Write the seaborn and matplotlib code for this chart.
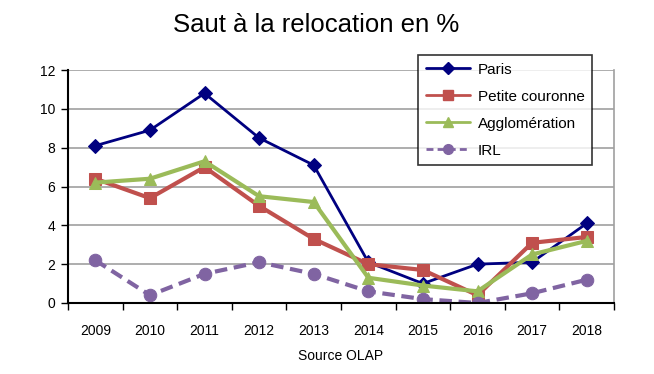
import matplotlib
matplotlib.use("Agg")
import matplotlib.pyplot as plt
import seaborn as sns
import numpy as np
from matplotlib.lines import Line2D

years = ["2009", "2010", "2011", "2012", "2013", "2014", "2015", "2016", "2017", "2018"]
paris = [8.1, 8.9, 10.8, 8.5, 7.1, 2.1, 1.0, 2.0, 2.1, 4.1]
petite_couronne = [6.4, 5.4, 7.0, 5.0, 3.3, 2.0, 1.7, 0.4, 3.1, 3.4]
agglomeration = [6.2, 6.4, 7.3, 5.5, 5.2, 1.3, 0.9, 0.6, 2.5, 3.2]
irl = [2.2, 0.4, 1.5, 2.1, 1.5, 0.6, 0.2, 0.0, 0.5, 1.2]

sns.set_style("white")
plt.rcParams['font.family'] = ['Liberation Sans', 'DejaVu Sans']
plt.rcParams['text.color'] = 'black'
plt.rcParams['axes.labelcolor'] = 'black'
plt.rcParams['xtick.color'] = 'black'
plt.rcParams['ytick.color'] = 'black'

fig = plt.figure(figsize=(6.54, 3.74), dpi=100)
ax = fig.add_axes([68/654, 1-303/374, (614-68)/654, (303-70)/374])

x = np.arange(len(years))
series = [
    ("Paris", paris, "#000080", "D", 2.0, 7, "-"),
    ("Petite couronne", petite_couronne, "#C0504D", "s", 3.0, 9, "-"),
    ("Agglomération", agglomeration, "#9BBB59", "^", 3.0, 9, "-"),
    ("IRL", irl, "#8064A2", "o", 3.0, 9, (0, (3, 1.6))),
]
handles = []
for name, vals, col, mk, lw, ms, ls in series:
    sns.lineplot(x=x, y=vals, ax=ax, color=col, marker=mk, linewidth=lw,
                 markersize=ms, markeredgecolor=col, linestyle=ls, label=None)
    ax.lines[-1].set_linestyle(ls)
    handles.append(Line2D([], [], color=col, marker=mk, linewidth=2,
                          markersize=7 if mk != "D" else 6, markeredgecolor=col,
                          linestyle=ls if name != "IRL" else (0, (2.5, 1.5))))

ax.set_xlim(-0.5, 9.5)
ax.set_ylim(0, 12)
ax.set_yticks(np.arange(0, 13, 2))
ax.yaxis.grid(True, color="#a0a0a0", linewidth=1.2)
ax.set_axisbelow(True)
ax.set_xticks(np.arange(-0.5, 10, 1))
ax.set_xticklabels([])
ax.set_xticks(x, minor=True)
ax.set_xticklabels(years, minor=True)
ax.tick_params(axis="x", which="major", length=5, width=1, color="black", direction="out", bottom=True)
ax.tick_params(axis="x", which="minor", length=0, labelsize=10, pad=15)
ax.tick_params(axis="y", length=5, width=1, color="black", direction="out", left=True, labelsize=10, pad=4)

for s in ["left", "bottom"]:
    ax.spines[s].set_color("black")
    ax.spines[s].set_linewidth(1.5)
ax.spines["right"].set_color("#a0a0a0")
ax.spines["right"].set_linewidth(1.2)
ax.spines["top"].set_visible(False)

ax.set_xlabel("Source OLAP", fontsize=10, labelpad=8)
ax.set_ylabel("")
fig.text(316/654, 1-25/374, "Saut à la relocation en %", fontsize=18.5, ha="center", va="center")

leg = fig.legend(handles=handles, labels=[s[0] for s in series],
                 loc="upper left", bbox_to_anchor=(418/654, 1-55/374),
                 frameon=True, fancybox=False, fontsize=11, handlelength=2.9,
                 borderpad=0.5, labelspacing=0.85, handletextpad=0.5, borderaxespad=0)
leg.get_frame().set_edgecolor("black")
leg.get_frame().set_linewidth(1.2)

fig.savefig("out.png", dpi=100)
